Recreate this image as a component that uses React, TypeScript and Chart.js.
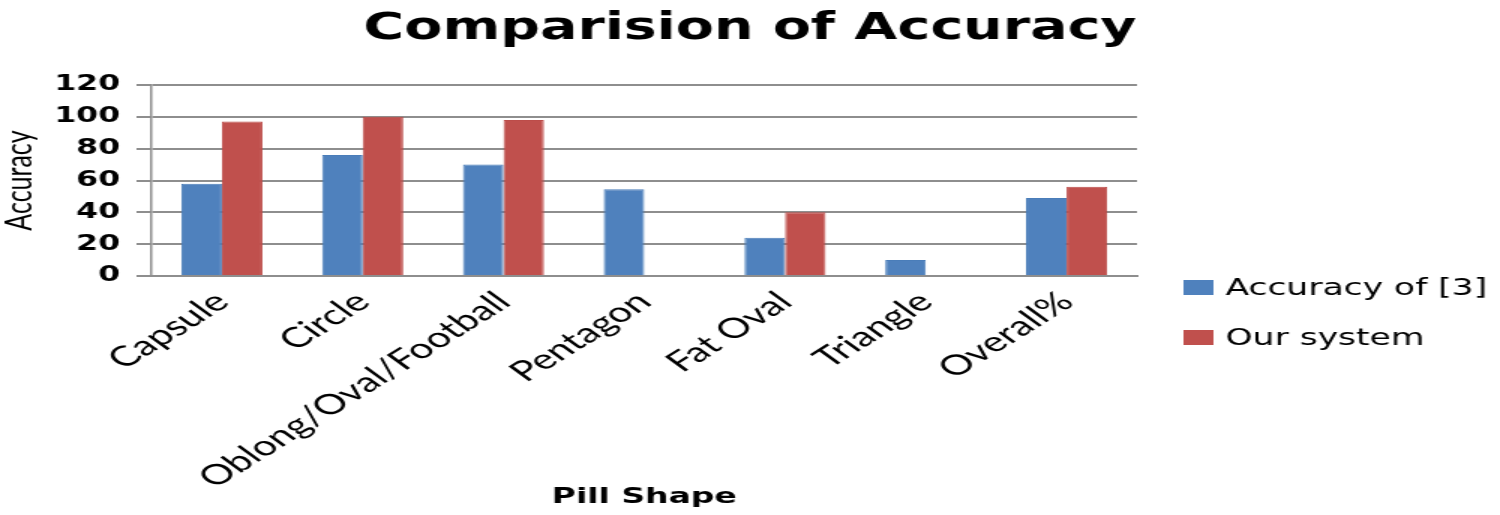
import React, { useEffect, useRef } from "react";
import { Chart, registerables } from "chart.js";

Chart.register(...registerables);

const chartTitle = "Comparision of Accuracy";
const xAxisTitle = "Pill Shape";
const yAxisTitle = "Accuracy";
const categories = ["Capsule", "Circle", "Oblong/Oval/Football", "Pentagon", "Fat Oval", "Triangle", "Overall%"];
const accuracyOf3 = [58, 76, 70, 54.5, 24, 10, 49];
const ourSystem = [97, 100, 98, null, 40, null, 56];
const seriesNames = ["Accuracy of [3]", "Our system"];
const seriesColors = ["#4F81BD", "#C0504D"];
const seriesBorders = ["#4A7DB9", "#BC4C49"];
const yTicks = [0, 20, 40, 60, 80, 100, 120];

const PAGE_W = 1500;
const PAGE_H = 515;
const STRETCH = 1.5;
const CANVAS_W = Math.round(PAGE_W / STRETCH);
const AREA = { left: 101, right: 758, top: 85, bottom: 276 };
const GRID = "#8E8E8E";

const sideLegend = {
  id: "sideLegend",
  afterDraw(chart: any) {
    const { ctx, chartArea } = chart;
    ctx.save();
    ctx.font = '23px "DejaVu Sans"';
    ctx.textAlign = "left";
    ctx.textBaseline = "alphabetic";
    chart.data.datasets.forEach((ds: any, i: number) => {
      const top = 280 + i * 50;
      const x = chartArea.right + 31;
      ctx.fillStyle = ds.backgroundColor;
      ctx.fillRect(x, top, 20, 15);
      ctx.fillStyle = "#000";
      ctx.fillText(ds.label, x + 28, top + 15);
    });
    ctx.restore();
  },
};

export default function App() {
  const ref = useRef<HTMLCanvasElement>(null);

  useEffect(() => {
    if (!ref.current) return;
    const chart = new Chart(ref.current, {
      type: "bar",
      data: {
        labels: categories,
        datasets: [
          {
            label: seriesNames[0],
            data: accuracyOf3,
            backgroundColor: seriesColors[0],
            borderColor: seriesBorders[0],
            borderWidth: 1,
            categoryPercentage: 0.576,
            barPercentage: 1,
            yAxisID: "y",
          },
          {
            label: seriesNames[1],
            data: ourSystem,
            backgroundColor: seriesColors[1],
            borderColor: seriesBorders[1],
            borderWidth: 1,
            categoryPercentage: 0.576,
            barPercentage: 1,
            yAxisID: "y",
          },
        ],
      },
      options: {
        responsive: false,
        animation: false,
        devicePixelRatio: 1,
        layout: { padding: 0 },
        plugins: {
          legend: { display: false },
          tooltip: { enabled: false },
          title: {
            display: true,
            text: chartTitle,
            color: "#000",
            font: { family: '"DejaVu Sans"', size: 37, weight: "bold", lineHeight: 1 },
            padding: { top: 11, bottom: AREA.top - 37 - 11 },
          },
        },
        scales: {
          x: {
            type: "category",
            grid: { display: false, drawTicks: false },
            border: { display: true, color: GRID, width: 2 },
            ticks: {
              color: "#000",
              font: { family: "Lato", size: 28 },
              minRotation: 43,
              maxRotation: 43,
              autoSkip: false,
              padding: 9,
            },
            title: {
              display: true,
              text: xAxisTitle,
              color: "#000",
              font: { family: '"DejaVu Sans"', size: 22, weight: "bold", lineHeight: 1.2 },
              padding: { top: 0, bottom: 5 },
            },
            afterFit(s: any) {
              s.height = PAGE_H - AREA.bottom;
            },
          },
          y: {
            min: yTicks[0],
            max: yTicks[yTicks.length - 1],
            ticks: {
              stepSize: yTicks[1] - yTicks[0],
              color: "#000",
              font: { family: '"DejaVu Sans"', size: 21, weight: "bold" },
              padding: 11,
            },
            grid: { color: GRID, lineWidth: 2, drawTicks: true, tickLength: 10 },
            border: { display: true, color: GRID, width: 1.5 },
            title: {
              display: true,
              text: yAxisTitle,
              color: "#000",
              font: { family: "Lato", size: 25, lineHeight: 1.0 },
              padding: 0,
            },
            afterFit(s: any) {
              s.width = AREA.left;
            },
          },
          yPad: {
            position: "right",
            display: true,
            grid: { display: false, drawTicks: false },
            border: { display: false },
            ticks: { display: false },
            afterFit(s: any) {
              s.width = CANVAS_W - AREA.right;
            },
          },
        },
      } as any,
      plugins: [sideLegend],
    });
    return () => chart.destroy();
  }, []);

  return (
    <div style={{ position: "fixed", left: 0, top: 0, width: PAGE_W, height: PAGE_H, background: "#fff" }}>
      <canvas
        ref={ref}
        width={CANVAS_W}
        height={PAGE_H}
        style={{ width: PAGE_W + "px", height: PAGE_H + "px", display: "block" }}
      />
    </div>
  );
}
